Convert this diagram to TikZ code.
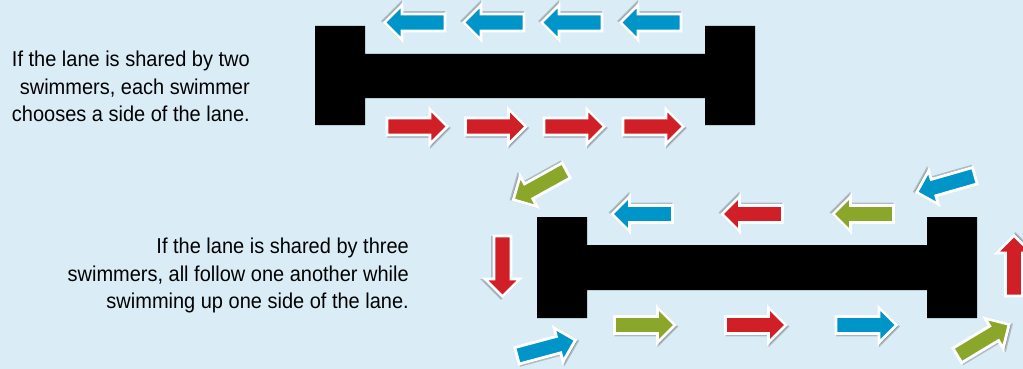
\documentclass[tikz,border=0pt]{standalone}
\usepackage{fontspec}
\setmainfont{Liberation Sans}[FakeStretch=0.93]
\definecolor{poolbg}{RGB}{218,236,246}
\definecolor{swimblue}{RGB}{0,149,201}
\definecolor{swimred}{RGB}{209,31,40}
\definecolor{swimgreen}{RGB}{139,167,43}
\newcommand\swimpath{(-30,-8.5) -- (13,-8.5) -- (13,-17.5) -- (30.5,0)
  -- (13,17.5) -- (13,8.5) -- (-30,8.5) -- cycle}
\begin{document}
\begin{tikzpicture}[x=1pt,y=-1pt,
  swimmer/.pic={
    \fill[black,opacity=0.2,line width=2.8pt,draw=black,draw opacity=0.2,
      shift={(1.5,1.5)}] \swimpath;
    \filldraw[fill=#1,draw=white,line width=2.8pt] \swimpath;},
  lane/.style={fill=black},
  note/.style={align=right,inner sep=0pt,anchor=north east,
    font=\fontsize{21.5}{27.5}\selectfont}]
\clip (0,0) rectangle (1023,369);
\useasboundingbox (0,0) rectangle (1023,369);
\fill[poolbg] (0,0) rectangle (1023,369);

% two swimmers
\fill[lane] (315,26) rectangle (365,125) (705,26) rectangle (755,125)
  (365,54) rectangle (705,98);
\foreach \x [count=\i] in {415,494,572,651}
  \pic[rotate=180] (back\i) at (\x,22.5) {swimmer=swimblue};
\foreach \x [count=\i] in {417,495.5,574,653}
  \pic (out\i) at (\x,126.5) {swimmer=swimred};
\node[note] (twotext) at (250,51) {If the lane is shared by two\\
  swimmers, each swimmer\\ chooses a side of the lane.};

% three swimmers
\fill[lane] (537,217) rectangle (587,318) (927,217) rectangle (977,318)
  (587,245) rectangle (927,290);
\pic[rotate=180] (topb) at (642.5,214) {swimmer=swimblue};
\pic[rotate=180] (topr) at (752.5,214) {swimmer=swimred};
\pic[rotate=180] (topg) at (863.5,214) {swimmer=swimgreen};
\pic (botg) at (644.5,325) {swimmer=swimgreen};
\pic (botr) at (755.5,325) {swimmer=swimred};
\pic (botb) at (866,325) {swimmer=swimblue};
\pic[rotate=-90] (leftr) at (502.5,266) {swimmer=swimred};
\pic[rotate=90] (rightr) at (1014,266) {swimmer=swimred};
\pic[rotate=209] (cornerg1) at (540,185) {swimmer=swimgreen};
\pic[rotate=15] (cornerb1) at (546,348) {swimmer=swimblue};
\pic[rotate=196] (cornerb2) at (946,184) {swimmer=swimblue};
\pic[rotate=31] (cornerg2) at (983,340) {swimmer=swimgreen};
\node[note] (threetext) at (409,238) {If the lane is shared by three\\
  swimmers, all follow one another while\\ swimming up one side of the lane.};
\end{tikzpicture}
\end{document}
